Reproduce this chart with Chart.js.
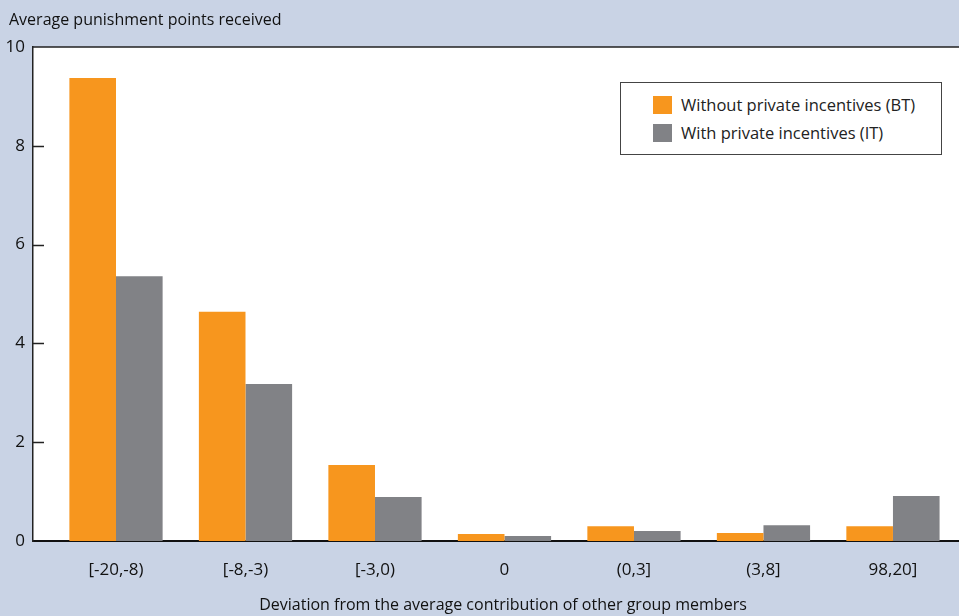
<!DOCTYPE html>
<html>
<head>
<meta charset="utf-8">
<script src="https://cdn.jsdelivr.net/npm/chart.js@4.4.1/dist/chart.umd.min.js"></script>
<style>
  html, body { margin: 0; padding: 0; background: #c9d3e5; }
  #wrap { position: relative; width: 959px; height: 616px; }
  #legend {
    position: absolute; left: 620px; top: 82px; width: 320px; height: 71px;
    background: #fff; border: 1px solid #444;
    font-family: "Open Sans", sans-serif; font-size: 16.5px; color: #222;
  }
  #legend div { position: absolute; left: 32px; height: 20px; line-height: 20px; white-space: nowrap; }
  #legend span.box { display: inline-block; width: 19px; height: 18px; vertical-align: -3px; margin-right: 9px; }
</style>
</head>
<body>
<div id="wrap">
  <canvas id="chart" width="959" height="616"></canvas>
  <div id="legend"></div>
</div>
<script>
"use strict";

const categories = ["[-20,-8)", "[-8,-3)", "[-3,0)", "0", "(0,3]", "(3,8]", "98,20]"];
const withoutIncentives = [9.37, 4.64, 1.54, 0.14, 0.30, 0.16, 0.30];
const withIncentives = [5.36, 3.18, 0.89, 0.10, 0.20, 0.32, 0.91];
const yTicks = [0, 2, 4, 6, 8, 10];

const seriesNames = ["Without private incentives (BT)", "With private incentives (IT)"];
const seriesColors = ["#f7961e", "#818286"];

const font = "Open Sans";

// white plot area, frame, little inward tick marks and the two axis captions
const framePlugin = {
  id: "frame",
  beforeDraw(chart) {
    const { ctx, chartArea } = chart;
    ctx.save();
    ctx.fillStyle = "#fff";
    ctx.fillRect(chartArea.left, chartArea.top, chart.width - chartArea.left, chartArea.bottom - chartArea.top);
    ctx.restore();
  },
  afterDraw(chart) {
    const { ctx, chartArea } = chart;
    const y = chart.scales.y;
    ctx.save();
    ctx.strokeStyle = "#222";
    ctx.lineWidth = 1.5;
    ctx.beginPath();
    ctx.moveTo(chartArea.left, chartArea.top);
    ctx.lineTo(chart.width, chartArea.top);
    yTicks.slice(1, -1).forEach((v) => {
      const py = Math.round(y.getPixelForValue(v)) + 0.5;
      ctx.moveTo(chartArea.left, py);
      ctx.lineTo(chartArea.left + 11, py);
    });
    ctx.stroke();

    ctx.fillStyle = "#111";
    ctx.font = "16px '" + font + "'";
    ctx.textBaseline = "middle";
    ctx.fillText("Average punishment points received", 9, 20);
    ctx.textAlign = "center";
    ctx.fillText("Deviation from the average contribution of other group members", 503, 605);
    ctx.restore();
  }
};

const datasets = [withoutIncentives, withIncentives].map((vals, i) => ({
  label: seriesNames[i],
  data: vals.map((v, idx) => ({ x: idx, y: v })),
  backgroundColor: seriesColors[i],
  borderWidth: 0,
  categoryPercentage: 0.72,
  barPercentage: 1
}));

new Chart(document.getElementById("chart"), {
  type: "bar",
  data: { datasets: datasets },
  plugins: [framePlugin],
  options: {
    responsive: false,
    animation: false,
    layout: { padding: { top: 47, left: 0, right: 0, bottom: 0 } },
    plugins: {
      legend: { display: false },
      tooltip: { enabled: false }
    },
    scales: {
      x: {
        type: "linear",
        offset: false,
        min: -0.641,
        max: 6.51,
        grid: { display: false, drawTicks: false },
        border: { display: true, color: "#111", width: 2 },
        ticks: {
          stepSize: 1,
          includeBounds: false,
          autoSkip: false,
          maxRotation: 0,
          padding: 19,
          color: "#111",
          font: { family: font, size: 17 },
          callback: (v) => (Number.isInteger(v) && categories[v] !== undefined ? categories[v] : "")
        },
        afterFit: (scale) => { scale.height = 75; }
      },
      y: {
        min: 0,
        max: 10,
        grid: { display: false, drawTicks: false },
        border: { display: true, color: "#222", width: 1.5 },
        ticks: {
          stepSize: 2,
          padding: 8,
          color: "#111",
          font: { family: font, size: 17 }
        },
        afterFit: (scale) => { scale.width = 33; }
      }
    }
  }
});

const legend = document.getElementById("legend");
seriesNames.forEach((name, i) => {
  const row = document.createElement("div");
  row.style.top = (12 + i * 28) + "px";
  row.innerHTML = `<span class="box" style="background:${seriesColors[i]}"></span>${name}`;
  legend.appendChild(row);
});
</script>
</body>
</html>
